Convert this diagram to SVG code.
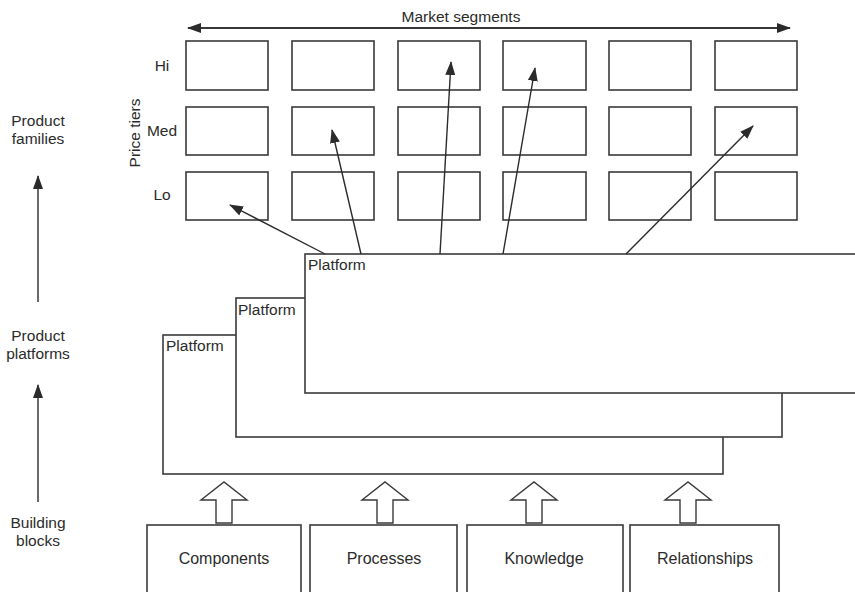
<svg xmlns="http://www.w3.org/2000/svg" width="855" height="592" viewBox="0 0 855 592">
<style>
text{font-family:"Liberation Sans",Arial,sans-serif;fill:#2b2b2b;font-size:15.5px}
.box{fill:#fff;stroke:#3a3a3a;stroke-width:1.6}
.ln{fill:none;stroke:#2b2b2b;stroke-width:1.4}
.blk{fill:#fff;stroke:#3a3a3a;stroke-width:1.4;stroke-linejoin:miter}
.bt{font-size:16px}
</style>
<defs>
<marker id="ah" markerUnits="userSpaceOnUse" markerWidth="14" markerHeight="10" refX="13" refY="5" orient="auto">
<path d="M0,0 L14,5 L0,10 Z" fill="#2b2b2b"/>
</marker>
</defs>
<g id="labels-left">
<text x="38" y="126" text-anchor="middle">Product</text>
<text x="38" y="144" text-anchor="middle">families</text>
<text x="38" y="341" text-anchor="middle">Product</text>
<text x="38" y="359" text-anchor="middle">platforms</text>
<text x="38" y="528" text-anchor="middle">Building</text>
<text x="38" y="546" text-anchor="middle">blocks</text>
</g>
<g id="axis-labels">
<text x="461" y="22" text-anchor="middle">Market segments</text>
<text transform="translate(139.5,133) rotate(-90)" text-anchor="middle">Price tiers</text>
<text x="162" y="71" text-anchor="middle">Hi</text>
<text x="162" y="136" text-anchor="middle">Med</text>
<text x="162" y="200" text-anchor="middle">Lo</text>
</g>
<g id="grid">
<rect class="box" x="186" y="41" width="82" height="49"/>
<rect class="box" x="292" y="41" width="82" height="49"/>
<rect class="box" x="398" y="41" width="82" height="49"/>
<rect class="box" x="503" y="41" width="83" height="49"/>
<rect class="box" x="609" y="41" width="82" height="49"/>
<rect class="box" x="715" y="41" width="82" height="49"/>
<rect class="box" x="186" y="107" width="82" height="48"/>
<rect class="box" x="292" y="107" width="82" height="48"/>
<rect class="box" x="398" y="107" width="82" height="48"/>
<rect class="box" x="503" y="107" width="83" height="48"/>
<rect class="box" x="609" y="107" width="82" height="48"/>
<rect class="box" x="715" y="107" width="82" height="48"/>
<rect class="box" x="186" y="172" width="82" height="48"/>
<rect class="box" x="292" y="172" width="82" height="48"/>
<rect class="box" x="398" y="172" width="82" height="48"/>
<rect class="box" x="503" y="172" width="83" height="48"/>
<rect class="box" x="609" y="172" width="82" height="48"/>
<rect class="box" x="715" y="172" width="82" height="48"/>
</g>
<g id="platform-3">
<rect class="box" x="163" y="335" width="560" height="139"/>
<text x="166" y="351">Platform</text>
</g>
<g id="platform-2">
<rect class="box" x="236" y="298" width="546" height="139"/>
<text x="238" y="315">Platform</text>
</g>
<g id="platform-1">
<rect class="box" x="305" y="254" width="560" height="139"/>
<text x="308" y="270">Platform</text>
</g>
<g id="building-blocks">
<g id="components"><rect class="box" x="147" y="525" width="154" height="80"/><text class="bt" x="224" y="564" text-anchor="middle">Components</text></g>
<g id="processes"><rect class="box" x="310" y="525" width="147" height="80"/><text class="bt" x="384" y="564" text-anchor="middle">Processes</text></g>
<g id="knowledge"><rect class="box" x="467" y="525" width="156" height="80"/><text class="bt" x="544" y="564" text-anchor="middle">Knowledge</text></g>
<g id="relationships"><rect class="box" x="630" y="525" width="149" height="80"/><text class="bt" x="705" y="564" text-anchor="middle">Relationships</text></g>
</g>
<g id="connectors">
<line class="ln" x1="188" y1="28" x2="790" y2="28" marker-end="url(#ah)"/>
<line class="ln" x1="790" y1="28" x2="188" y2="28" marker-end="url(#ah)"/>
<line class="ln" x1="38" y1="302" x2="38" y2="176" marker-end="url(#ah)"/>
<line class="ln" x1="38" y1="502" x2="38" y2="385" marker-end="url(#ah)"/>
<line class="ln" x1="325" y1="254" x2="230" y2="205" marker-end="url(#ah)"/>
<line class="ln" x1="361" y1="254" x2="332" y2="130" marker-end="url(#ah)"/>
<line class="ln" x1="440" y1="254" x2="451" y2="62" marker-end="url(#ah)"/>
<line class="ln" x1="503" y1="254" x2="535" y2="68" marker-end="url(#ah)"/>
<line class="ln" x1="626" y1="254" x2="753" y2="126" marker-end="url(#ah)"/>
<path class="blk" d="M216,523 V500 H201 L224,482 L247,500 H232 V523 Z"/>
<path class="blk" d="M377,523 V500 H362 L385,482 L408,500 H393 V523 Z"/>
<path class="blk" d="M526,523 V500 H511 L534,482 L557,500 H542 V523 Z"/>
<path class="blk" d="M680,523 V500 H665 L688,482 L711,500 H696 V523 Z"/>
</g>
</svg>
